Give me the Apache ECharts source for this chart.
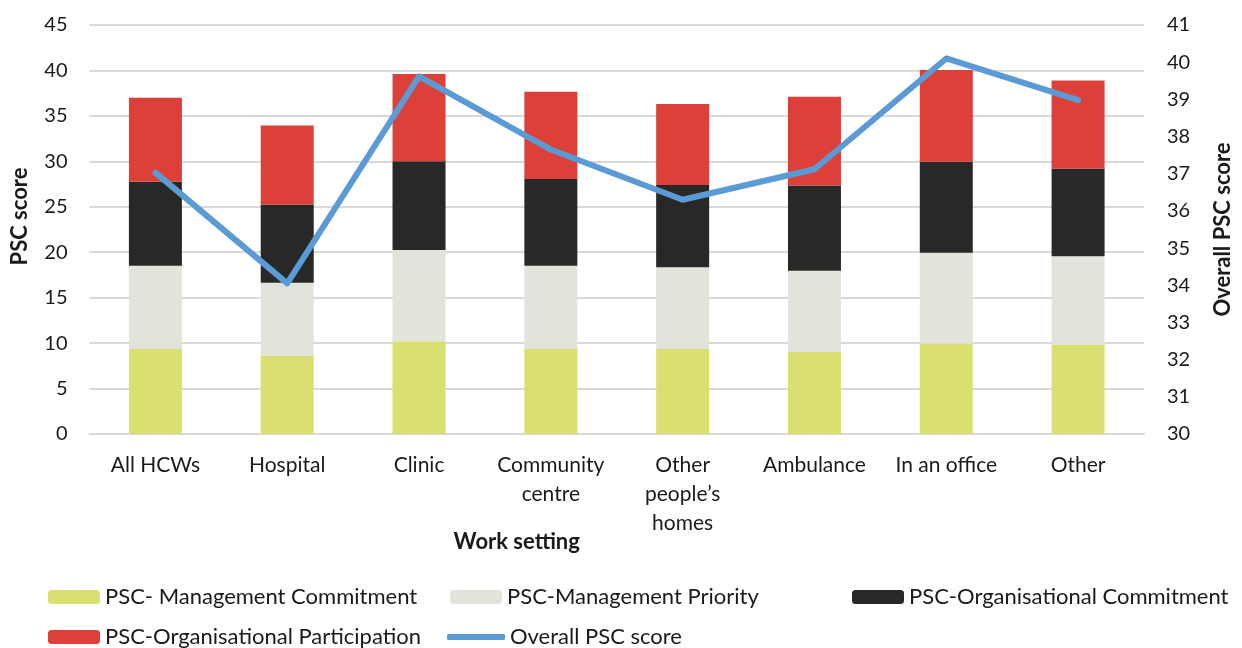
<!DOCTYPE html>
<html>
<head>
<meta charset="utf-8">
<script src="https://cdn.jsdelivr.net/npm/echarts@6/dist/echarts.min.js"></script>
<style>
  html, body { margin: 0; padding: 0; background: #fff; }
  #chart { width: 1242px; height: 648px; }
</style>
</head>
<body>
<div id="chart"></div>
<script>
const categories = ['All HCWs', 'Hospital', 'Clinic', 'Community\ncentre', 'Other\npeople\u2019s\nhomes', 'Ambulance', 'In an office', 'Other']
const mgmtCommitment = [9.35, 8.6, 10.2, 9.35, 9.35, 9.05, 9.95, 9.85]
const mgmtPriority = [9.15, 8.05, 10.05, 9.15, 9.0, 8.9, 10.0, 9.7]
const orgCommitment = [9.25, 8.6, 9.75, 9.55, 9.05, 9.4, 10.0, 9.65]
const orgParticipation = [9.25, 8.7, 9.6, 9.6, 8.9, 9.75, 10.1, 9.7]
const overallPsc = [37.03, 34.05, 39.62, 37.65, 36.3, 37.12, 40.1, 38.98]
const leftTicks = { min: 0, max: 45, interval: 5 }
const rightTicks = { min: 30, max: 41, interval: 1 }

const font = 'Lato, "Open Sans", sans-serif'
const textColor = '#1a1a1a'
const gridColor = '#d9d9d9'

const chart = echarts.init(document.getElementById('chart'), null, { renderer: 'canvas' })

function bar(name, data, color) {
  return {
    name, type: 'bar', stack: 'psc', data,
    barWidth: 53,
    itemStyle: { color },
    emphasis: { disabled: true }
  }
}

function legendAt(name, left, top, extra = {}) {
  return Object.assign({
    data: [name], left, top,
    padding: 0,
    itemWidth: 52, itemHeight: 14,
    selectedMode: false,
    textStyle: { fontFamily: font, fontSize: 22, color: textColor }
  }, extra)
}

chart.setOption({
  animation: false,
  textStyle: { fontFamily: font },
  grid: { left: 89.5, right: 88.5, top: 25, bottom: 214 },
  legend: [
    legendAt('PSC- Management Commitment', 48, 586),
    legendAt('PSC-Management Priority', 450, 586),
    legendAt('PSC-Organisational Commitment', 852, 586),
    legendAt('PSC-Organisational Participation', 48, 626),
    legendAt('Overall PSC score', 447, 626, { icon: 'roundRect', itemWidth: 58, itemHeight: 6 })
  ],
  xAxis: {
    type: 'category',
    data: categories,
    name: 'Work setting',
    nameLocation: 'middle',
    nameGap: 97,
    nameMoveOverlap: false,
    nameTextStyle: { fontFamily: font, fontSize: 22, fontWeight: 'bold', color: textColor, padding: [0, 200, 0, 0] },
    axisLine: { lineStyle: { color: gridColor, width: 2 } },
    axisTick: { show: false },
    axisLabel: { fontFamily: font, fontSize: 21, color: textColor, margin: 17, lineHeight: 29, interval: 0 }
  },
  yAxis: [
    {
      type: 'value',
      ...leftTicks,
      name: 'PSC score',
      nameLocation: 'middle',
      nameGap: 59,
      nameTextStyle: { fontFamily: font, fontSize: 22, fontWeight: 'bold', color: textColor, padding: [0, 0, 0, 26] },
      axisLabel: { fontFamily: font, fontSize: 20, color: textColor, margin: 22 },
      splitLine: { lineStyle: { color: gridColor, width: 2 } },
      axisLine: { show: false },
      axisTick: { show: false }
    },
    {
      type: 'value',
      ...rightTicks,
      position: 'right',
      name: 'Overall PSC score',
      nameLocation: 'middle',
      nameRotate: 90,
      nameGap: 68,
      nameTextStyle: { fontFamily: font, fontSize: 22, fontWeight: 'bold', color: textColor },
      axisLabel: { fontFamily: font, fontSize: 20, color: textColor, margin: 23 },
      splitLine: { show: false },
      axisLine: { show: false },
      axisTick: { show: false }
    }
  ],
  series: [
    bar('PSC- Management Commitment', mgmtCommitment, '#d9e06f'),
    bar('PSC-Management Priority', mgmtPriority, '#e1e4db'),
    bar('PSC-Organisational Commitment', orgCommitment, '#282826'),
    bar('PSC-Organisational Participation', orgParticipation, '#dc4038'),
    {
      name: 'Overall PSC score', type: 'line', yAxisIndex: 1,
      data: overallPsc,
      symbol: 'none',
      lineStyle: { color: '#5b9bd5', width: 6, cap: 'round', join: 'round' },
      itemStyle: { color: '#5b9bd5' },
      emphasis: { disabled: true }
    }
  ]
})
</script>
</body>
</html>
